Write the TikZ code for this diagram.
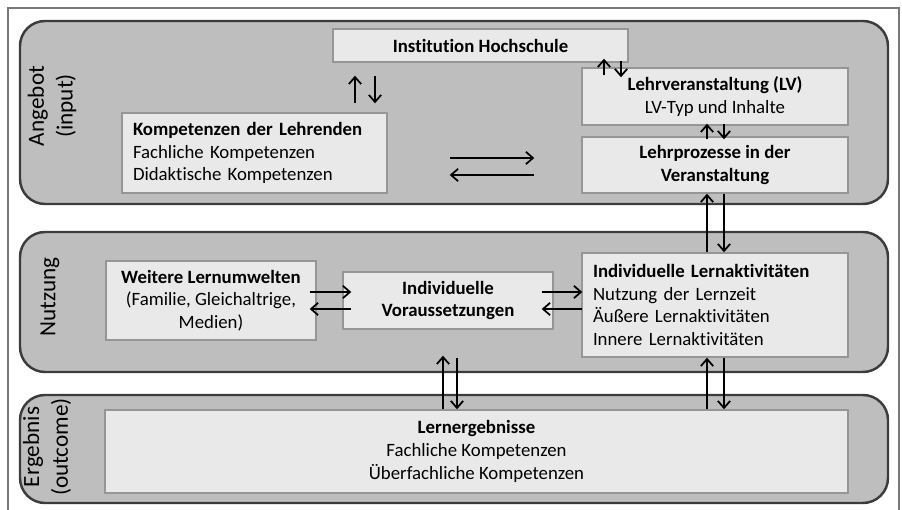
\documentclass[tikz,border=0pt]{standalone}
\usepackage{fontspec}
\setmainfont{Carlito}[Ligatures=NoCommon]
\usetikzlibrary{arrows.meta}
\definecolor{panelfill}{RGB}{190,190,190}
\definecolor{paneldraw}{RGB}{60,60,60}
\definecolor{boxfill}{RGB}{233,233,233}
\definecolor{boxdraw}{RGB}{150,150,150}
\definecolor{framegray}{RGB}{120,120,120}
\newcommand{\bodysize}{\fontsize{10.7}{12.9}\selectfont}
\newcommand{\rowsize}{\fontsize{13.2}{16.4}\selectfont}
\begin{document}
\begin{tikzpicture}[>={Straight Barb[length=4pt,width=7pt]},
  panel/.style={draw=paneldraw,fill=panelfill,line width=1.4pt,rounded corners=0.5cm},
  box/.style={draw=boxdraw,fill=boxfill,line width=0.8pt,font=\bodysize,inner sep=0pt},
  rowlabel/.style={rotate=90,align=center,font=\rowsize},
  link/.style={->,line width=1pt}]
  \useasboundingbox (0,0) rectangle (18.04,10.2);
  \draw[framegray,line width=0.6pt] (0.16,0) -- (0.16,10.04) -- (17.98,10.04) -- (17.98,0);
  \node[panel,minimum width=17.36cm,minimum height=3.66cm] (angebot) at (9.08,7.95) {};
  \node[panel,minimum width=17.36cm,minimum height=2.8cm] (nutzung) at (9.08,4.16) {};
  \node[panel,minimum width=17.36cm,minimum height=2.16cm] (ergebnis) at (9.08,1.22) {};
  \node[rowlabel] (lbangebot) at (1.04,8.08) {Angebot\\(input)};
  \node[rowlabel] (lbnutzung) at (1.0,4.26) {Nutzung};
  \node[rowlabel] (lbergebnis) at (0.94,1.26) {Ergebnis\\(outcome)};
  \node[box,minimum width=5.9cm,minimum height=0.66cm,font=\bodysize\bfseries] (inst) at (9.61,9.29) {Institution Hochschule};
  \node[box,text width=4.86cm,inner xsep=0.22cm,minimum height=1.6cm,align=left] (komp) at (5.09,7.14) {\textbf{Kompetenzen der Lehrenden}\\Fachliche Kompetenzen\\Didaktische Kompetenzen};
  \node[box,minimum width=5.32cm,minimum height=1.14cm,align=center] (lv) at (14.3,8.27) {\textbf{Lehrveranstaltung (LV)}\\LV-Typ und Inhalte};
  \node[box,minimum width=5.32cm,minimum height=1.12cm,align=center,font=\bodysize\bfseries] (lp) at (14.3,6.9) {Lehrprozesse in der\\Veranstaltung};
  \node[box,minimum width=4.2cm,minimum height=1.58cm,align=center] (wl) at (4.22,4.19) {\textbf{Weitere Lernumwelten}\\(Familie, Gleichaltrige,\\Medien)};
  \node[box,minimum width=4.2cm,minimum height=1.14cm,align=center,font=\bodysize\bfseries] (vo) at (8.96,4.19) {Individuelle\\Voraussetzungen};
  \node[box,text width=4.88cm,inner xsep=0.22cm,minimum height=2.08cm,align=left] (la) at (14.3,4.1) {\textbf{Individuelle Lernaktivitäten}\\Nutzung der Lernzeit\\Äußere Lernaktivitäten\\Innere Lernaktivitäten};
  \node[box,minimum width=14.86cm,minimum height=1.66cm,align=center] (le) at (9.53,1.17) {\textbf{Lernergebnisse}\\Fachliche Kompetenzen\\Überfachliche Kompetenzen};
  \coordinate (ku) at (7.1,0);
  \coordinate (kd) at (7.5,0);
  \coordinate (iu) at (12.08,0);
  \coordinate (id) at (12.42,0);
  \coordinate (pu) at (14.14,0);
  \coordinate (pd) at (14.48,0);
  \coordinate (vu) at (8.86,0);
  \coordinate (vd) at (9.14,0);
  \coordinate (rr) at (0,7.04);
  \coordinate (rl) at (0,6.7);
  \coordinate (nr) at (0,4.36);
  \coordinate (nl) at (0,4.02);
  \draw[link,shorten <=0.18cm,shorten >=0.26cm] (komp.north -| ku) -- (inst.south -| ku);
  \draw[link,shorten <=0.26cm,shorten >=0.18cm] (inst.south -| kd) -- (komp.north -| kd);
  \draw[link,shorten <=-0.16cm,shorten >=-0.08cm] (lv.north -| iu) -- (inst.south -| iu);
  \draw[link,shorten <=-0.04cm,shorten >=-0.2cm] (inst.south -| id) -- (lv.north -| id);
  \draw[link,shorten <=-0.06cm,shorten >=-0.04cm] (lp.north -| pu) -- (lv.south -| pu);
  \draw[link,shorten <=-0.04cm,shorten >=-0.06cm] (lv.south -| pd) -- (lp.north -| pd);
  \draw[link] (la.north -| pu) -- (lp.south -| pu);
  \draw[link] (lp.south -| pd) -- (la.north -| pd);
  \draw[link] (le.north -| pu) -- (la.south -| pu);
  \draw[link] (la.south -| pd) -- (le.north -| pd);
  \draw[link,shorten >=0.52cm] (le.north -| vu) -- (vo.south -| vu);
  \draw[link,shorten <=0.56cm] (vo.south -| vd) -- (le.north -| vd);
  \draw[link,shorten <=1.24cm,shorten >=0.94cm] (komp.east |- rr) -- (lp.west |- rr);
  \draw[link,shorten <=0.94cm,shorten >=1.24cm] (lp.west |- rl) -- (komp.east |- rl);
  \draw[link,shorten <=-0.14cm,shorten >=-0.18cm] (wl.east |- nr) -- (vo.west |- nr);
  \draw[link,shorten <=-0.18cm,shorten >=-0.14cm] (vo.west |- nl) -- (wl.east |- nl);
  \draw[link,shorten <=-0.24cm,shorten >=-0.02cm] (vo.east |- nr) -- (la.west |- nr);
  \draw[link,shorten <=-0.02cm,shorten >=-0.24cm] (la.west |- nl) -- (vo.east |- nl);
\end{tikzpicture}
\end{document}
